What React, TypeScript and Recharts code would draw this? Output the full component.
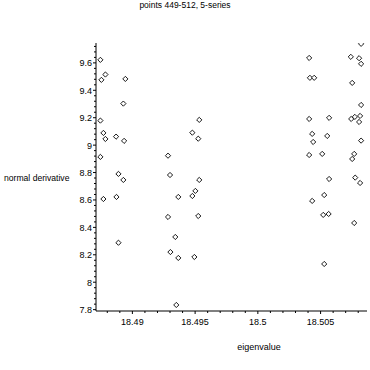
import React from 'react';
import { ScatterChart, Scatter, XAxis, YAxis, Label } from 'recharts';

const title = 'points 449-512, 5-series';
const xAxisTitle = 'eigenvalue';
const yAxisTitle = 'normal derivative';

const leftCluster = [
  { x: 18.48745, y: 9.622 }, { x: 18.48785, y: 9.515 }, { x: 18.48753, y: 9.476 },
  { x: 18.48944, y: 9.483 }, { x: 18.48928, y: 9.303 }, { x: 18.48745, y: 9.179 },
  { x: 18.48769, y: 9.089 }, { x: 18.48785, y: 9.045 }, { x: 18.4887, y: 9.062 },
  { x: 18.48934, y: 9.031 }, { x: 18.48745, y: 8.914 }, { x: 18.48889, y: 8.79 },
  { x: 18.48928, y: 8.746 }, { x: 18.48769, y: 8.607 }, { x: 18.48873, y: 8.622 },
  { x: 18.48889, y: 8.288 },
];

const middleCluster = [
  { x: 18.49284, y: 8.923 }, { x: 18.493, y: 8.782 }, { x: 18.49533, y: 9.184 },
  { x: 18.49478, y: 9.091 }, { x: 18.49525, y: 9.047 }, { x: 18.49533, y: 8.746 },
  { x: 18.49366, y: 8.622 }, { x: 18.49478, y: 8.629 }, { x: 18.49502, y: 8.666 },
  { x: 18.49284, y: 8.476 }, { x: 18.49525, y: 8.483 }, { x: 18.49342, y: 8.33 },
  { x: 18.49303, y: 8.22 }, { x: 18.49366, y: 8.177 }, { x: 18.49494, y: 8.184 },
  { x: 18.4935, y: 7.834 },
];

const rightClusterA = [
  { x: 18.50409, y: 9.636 }, { x: 18.50415, y: 9.491 }, { x: 18.50449, y: 9.491 },
  { x: 18.50409, y: 9.191 }, { x: 18.50568, y: 9.199 }, { x: 18.50433, y: 9.082 },
  { x: 18.50441, y: 9.023 }, { x: 18.50553, y: 9.067 }, { x: 18.50409, y: 8.928 },
  { x: 18.50513, y: 8.936 }, { x: 18.50568, y: 8.753 }, { x: 18.50529, y: 8.636 },
  { x: 18.50433, y: 8.593 }, { x: 18.50521, y: 8.491 }, { x: 18.50564, y: 8.498 },
  { x: 18.50529, y: 8.133 },
];

const rightClusterB = [
  { x: 18.50823, y: 9.739 }, { x: 18.50741, y: 9.644 }, { x: 18.50807, y: 9.634 },
  { x: 18.50823, y: 9.593 }, { x: 18.50752, y: 9.454 }, { x: 18.50823, y: 9.293 },
  { x: 18.50744, y: 9.191 }, { x: 18.50773, y: 9.206 }, { x: 18.50815, y: 9.213 },
  { x: 18.50807, y: 9.169 }, { x: 18.50823, y: 9.033 }, { x: 18.50768, y: 8.936 },
  { x: 18.50752, y: 8.899 }, { x: 18.50776, y: 8.763 }, { x: 18.50815, y: 8.724 },
  { x: 18.50768, y: 8.432 },
];

const xMajorTicks = [18.49, 18.495, 18.5, 18.505];
const xTickLabels = ['18.49', '18.495', '18.5', '18.505'];
const yMajorTicks = [7.8, 8, 8.2, 8.4, 8.6, 8.8, 9, 9.2, 9.4, 9.6];
const yTickLabels = ['7.8', '8', '8.2', '8.4', '8.6', '8.8', '9', '9.2', '9.4', '9.6'];

const xDomain: [number, number] = [18.4871, 18.5087];
const yDomain: [number, number] = [7.79, 9.745];

// minor tick positions (axis decoration)
const xTicks: number[] = [];
for (let i = 0; i <= 20; i++) xTicks.push(Math.round((18.488 + i * 0.001) * 1e6) / 1e6);
const yTicks: number[] = [];
for (let i = 0; i <= 48; i++) yTicks.push(Math.round((7.8 + i * 0.04) * 1e4) / 1e4);

const FONT = '"Liberation Sans", Arial, sans-serif';
const INK = '#000';

const labelFor = (v: number, majors: number[], labels: string[]) => {
  const idx = majors.findIndex((m) => Math.abs(m - v) < 1e-7);
  return idx >= 0 ? labels[idx] : null;
};

const XTick = (props: any) => {
  const { x, y, payload } = props;
  const lab = labelFor(payload.value, xMajorTicks, xTickLabels);
  return (
    <g>
      <line x1={x} x2={x} y1={y} y2={y + (lab ? 3 : 2)} stroke={INK} strokeWidth={1} />
      {lab && (
        <text x={x} y={y + 14} textAnchor="middle" fontSize={9} fontFamily={FONT} fill={INK}>
          {lab}
        </text>
      )}
    </g>
  );
};

const YTick = (props: any) => {
  const { x, y, payload } = props;
  const lab = labelFor(payload.value, yMajorTicks, yTickLabels);
  return (
    <g>
      <line x1={x - (lab ? 3 : 2)} x2={x} y1={y} y2={y} stroke={INK} strokeWidth={1} />
      {lab && (
        <text x={x - 4} y={y + 3.5} textAnchor="end" fontSize={9} fontFamily={FONT} fill={INK}>
          {lab}
        </text>
      )}
    </g>
  );
};

const Diamond = (props: any) => {
  const { cx, cy } = props;
  const r = 2.6;
  return (
    <path
      d={`M${cx},${cy - r}L${cx + r},${cy}L${cx},${cy + r}L${cx - r},${cy}Z`}
      fill="#fff"
      stroke={INK}
      strokeWidth={0.9}
    />
  );
};

export default function App() {
  return (
    <div style={{ position: 'absolute', left: 0, top: 0, width: 370, height: 370, background: '#fff' }}>
      <div
        style={{
          position: 'absolute',
          left: 0,
          top: 0,
          width: 370,
          textAlign: 'center',
          fontFamily: FONT,
          fontSize: 8.5,
          lineHeight: '10px',
          color: INK,
        }}
      >
        {title}
      </div>
      <ScatterChart width={370} height={370} margin={{ top: 43, right: 3, bottom: 0, left: 0 }}>
        <XAxis
          type="number"
          dataKey="x"
          domain={xDomain}
          allowDataOverflow
          ticks={xTicks}
          interval={0}
          tick={<XTick />}
          tickLine={false}
          tickSize={0}
          tickMargin={0}
          height={59}
          axisLine={{ stroke: INK, strokeWidth: 1 }}
        >
          <Label
            content={() => (
              <text x={259} y={350} textAnchor="middle" fontSize={9} fontFamily={FONT} fill={INK}>
                {xAxisTitle}
              </text>
            )}
          />
        </XAxis>
        <YAxis
          type="number"
          dataKey="y"
          domain={yDomain}
          allowDataOverflow
          ticks={yTicks}
          interval={0}
          tick={<YTick />}
          tickLine={false}
          tickSize={0}
          tickMargin={0}
          width={96}
          axisLine={{ stroke: INK, strokeWidth: 1 }}
        >
          <Label
            content={() => (
              <text x={4} y={181} textAnchor="start" fontSize={8.6} fontFamily={FONT} fill={INK}>
                {yAxisTitle}
              </text>
            )}
          />
        </YAxis>
        <Scatter name="left" data={leftCluster} shape={<Diamond />} isAnimationActive={false} />
        <Scatter name="middle" data={middleCluster} shape={<Diamond />} isAnimationActive={false} />
        <Scatter name="rightA" data={rightClusterA} shape={<Diamond />} isAnimationActive={false} />
        <Scatter name="rightB" data={rightClusterB} shape={<Diamond />} isAnimationActive={false} />
      </ScatterChart>
    </div>
  );
}
